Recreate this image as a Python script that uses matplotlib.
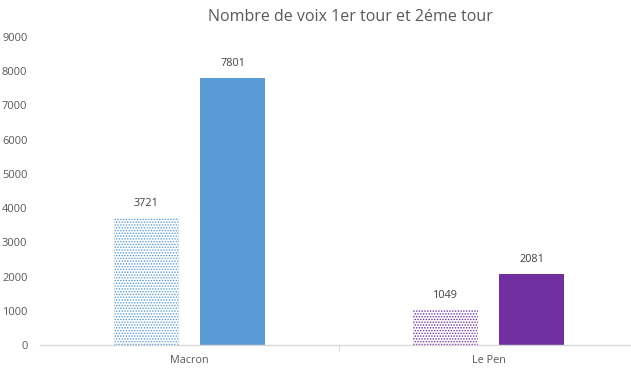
import matplotlib.pyplot as plt
import numpy as np

# ── Data ───────────────────────────────────────────────────────────────────
candidates = ["Macron", "Le Pen"]
tour1 = [3721, 1049]
tour2 = [7801, 2081]
colors = ["#5B9BD5", "#7030A0"]

TEXT = "#595959"
plt.rcParams["font.family"] = ["Open Sans", "DejaVu Sans"]
plt.rcParams["hatch.linewidth"] = 0.7

fig = plt.figure(figsize=(6.31, 3.72), dpi=100)
ax = fig.add_axes([40 / 631, 27 / 372, 598 / 631, 308 / 372])

x = np.arange(len(candidates))
w = 0.22
off = 0.144

for i in range(len(candidates)):
    ax.bar(x[i] - off, tour1[i], w, facecolor="white", edgecolor=colors[i],
           hatch="......", linewidth=0)
    ax.bar(x[i] + off, tour2[i], w, color=colors[i], linewidth=0)
    ax.text(x[i] - off, tour1[i] + 250, str(tour1[i]), ha="center", va="bottom",
            fontsize=7.8, color="#404040")
    ax.text(x[i] + off, tour2[i] + 250, str(tour2[i]), ha="center", va="bottom",
            fontsize=7.8, color="#404040")

ax.set_xlim(-0.5, 1.5)
ax.set_ylim(0, 9000)
ax.set_yticks(range(0, 9001, 1000))
ax.set_xticks(x)
ax.set_xticklabels(candidates)
ax.set_xticks([0.5], minor=True)
ax.tick_params(axis="y", length=0, labelsize=8, labelcolor=TEXT, pad=9)
ax.tick_params(axis="x", which="major", length=0, labelsize=7.8, labelcolor=TEXT, pad=7)
ax.tick_params(axis="x", which="minor", length=4, color="#D9D9D9", width=0.8)

for s in ["top", "right", "left"]:
    ax.spines[s].set_visible(False)
ax.spines["bottom"].set_color("#D9D9D9")
ax.spines["bottom"].set_linewidth(1.0)

fig.text(350 / 631, 1 - 17 / 372, "Nombre de voix 1er tour et 2éme tour",
         ha="center", va="center", fontsize=11.5, color=TEXT)

fig.savefig("out.png", dpi=100)
